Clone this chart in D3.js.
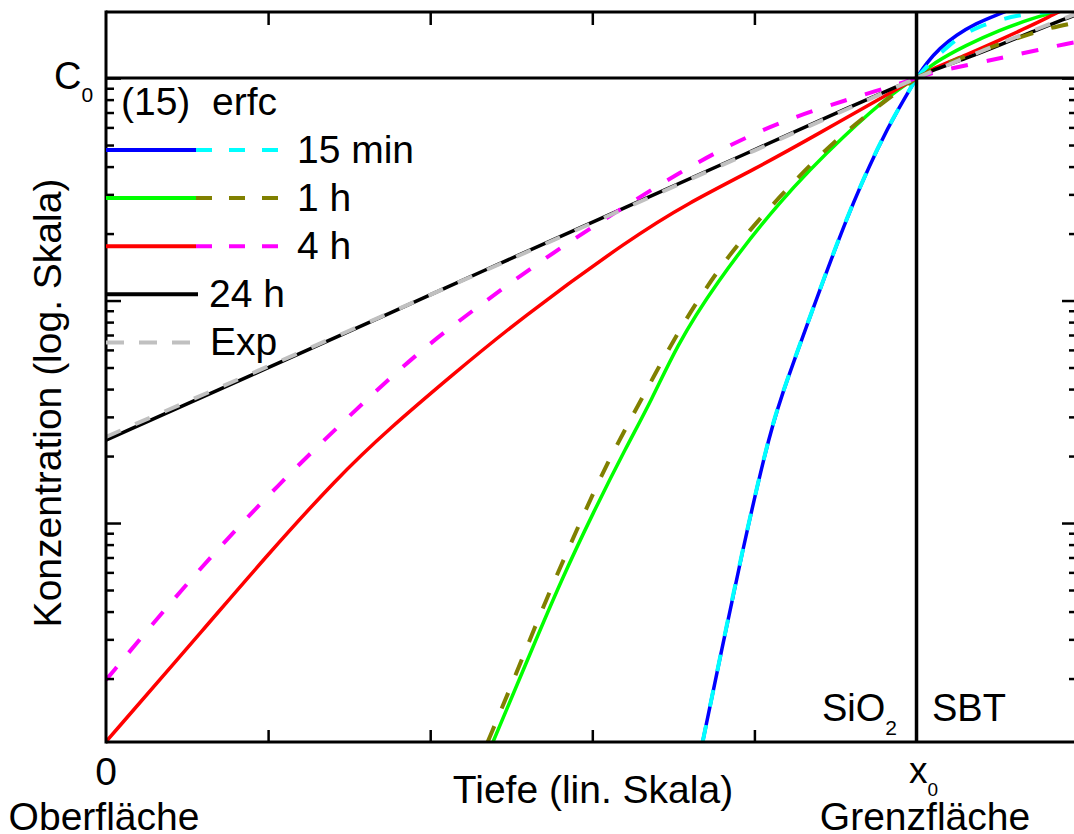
<!DOCTYPE html>
<html><head><meta charset="utf-8">
<script src="https://cdn.jsdelivr.net/npm/d3@7"></script>
<style>
body{margin:0;background:#fff}
svg{display:block}
text{font-family:"Liberation Sans",Arial,Helvetica,sans-serif;fill:#000}
</style>
</head><body>
<svg id="chart" width="1074" height="834"></svg>
<script>
// ---------- data (depth in tick units: 0 = Oberfläche, 5 = x0 Grenzfläche; concentration relative to C0) ----------
const erfc15min = [[3.681,0.00104],[3.798,0.00269],[3.927,0.00756],[4.069,0.0213],[4.155,0.0357],[4.359,0.0907],[4.568,0.237],[4.772,0.510],[4.895,0.741],[5.0,1.0],[5.059,1.164],[5.142,1.360],[5.245,1.561],[5.368,1.762],[5.491,1.919],[5.604,2.064]];
const eq15_15min = [[3.681,0.00104],[3.798,0.00270],[3.927,0.00760],[4.069,0.0214],[4.155,0.0358],[4.359,0.0910],[4.568,0.238],[4.772,0.511],[4.895,0.743],[5.0,1.0],[5.099,1.205],[5.203,1.407],[5.284,1.561],[5.389,1.713],[5.512,1.822],[5.617,1.909],[5.758,1.970],[5.882,2.0]];
const erfc1h = [[2.388,0.00104],[2.634,0.00278],[2.809,0.00554],[3.004,0.0111],[3.210,0.0220],[3.366,0.0357],[3.518,0.0620],[3.744,0.115],[4.155,0.283],[4.567,0.566],[4.875,0.883],[5.0,1.0],[5.099,1.164],[5.306,1.407],[5.512,1.644],[5.715,1.855],[5.861,1.986],[5.99,2.106]];
const eq15_1h = [[2.355,0.00104],[2.515,0.00197],[2.713,0.00451],[2.904,0.00930],[3.089,0.0186],[3.311,0.0368],[3.539,0.0752],[3.785,0.141],[3.970,0.207],[4.155,0.292],[4.359,0.419],[4.568,0.578],[4.772,0.756],[5.0,1.0],[5.142,1.132],[5.306,1.256],[5.512,1.422],[5.715,1.593],[5.820,1.678],[5.968,1.767]];
const erfc4h = [[0,0.00104],[0.641,0.00359],[0.968,0.00682],[1.430,0.0161],[1.751,0.0267],[2.121,0.0453],[2.552,0.0826],[3.249,0.193],[3.582,0.272],[4.014,0.394],[4.359,0.543],[4.834,0.856],[5.0,1.0],[5.099,1.106],[5.306,1.269],[5.512,1.482],[5.715,1.730],[5.838,1.919],[5.99,2.17]];
const eq15_4h = [[0,0.00197],[0.333,0.00386],[0.682,0.00756],[1.052,0.0146],[1.461,0.0285],[1.916,0.0581],[2.324,0.0975],[2.717,0.157],[3.126,0.245],[3.539,0.378],[3.950,0.549],[4.359,0.718],[4.772,0.883],[5.0,1.0],[5.099,1.059],[5.327,1.150],[5.536,1.236],[5.733,1.329],[5.943,1.436],[5.99,1.451]];
const erfc24h = [[0,0.0236],[0.888,0.0459],[1.813,0.0918],[2.306,0.134],[3.126,0.247],[3.970,0.465],[4.587,0.741],[5.0,1.0],[5.099,1.086],[5.306,1.226],[5.512,1.407],[5.715,1.615],[5.923,1.855],[5.99,1.93]];
const expFit = [[0,0.0244],[1,0.0505],[2,0.106],[3,0.223],[4,0.472],[5,1.0],[5.5,1.42],[5.99,1.95]];

const xDomain = [0, 5.99];
const yDomain = [0.001037, 1.981];
const xTickValues = [1, 2, 3, 4];
const yMajorTicks = [0.01, 0.1, 1];
const yMinorTicks = [0.002,0.003,0.004,0.005,0.006,0.007,0.008,0.009,
                     0.02,0.03,0.04,0.05,0.06,0.07,0.08,0.09,
                     0.2,0.3,0.4,0.5,0.6,0.7,0.8,0.9];
const x0Value = 5;
const c0Value = 1;

const legendRows = [
  {label:"15 min", solid:"#0000ff", dashed:"#00ffff"},
  {label:"1 h",    solid:"#00ff00", dashed:"#808000"},
  {label:"4 h",    solid:"#ff0000", dashed:"#ff00ff"}
];

// ---------- layout ----------
const L = 106, R = 1077, T = 12, B = 742;
const svg = d3.select("#chart");
const x = d3.scaleLinear().domain(xDomain).range([L, R]);
const y = d3.scaleLog().domain(yDomain).range([B, T]);
const FONT = 39;

svg.append("defs").append("clipPath").attr("id","clip")
  .append("rect").attr("x",L).attr("y",T).attr("width",R-L).attr("height",B-T);

const line = d3.line().x(d=>x(d[0])).y(d=>y(d[1])).curve(d3.curveBasis);
const gCurves = svg.append("g").attr("clip-path","url(#clip)");

const series = [
  {data:erfc15min, color:"#0000ff", dash:null},
  {data:erfc1h,    color:"#00ff00", dash:null},
  {data:erfc4h,    color:"#ff0000", dash:null},
  {data:erfc24h,   color:"#000000", dash:null},
  {data:eq15_15min,color:"#00ffff", dash:"17,19"},
  {data:eq15_1h,   color:"#808000", dash:"17,19"},
  {data:eq15_4h,   color:"#ff00ff", dash:"17,19"},
  {data:expFit,    color:"#c0c0c0", dash:"16,16"}
];
series.forEach(s=>{
  // each profile: oxide side (up to x0) and SBT side (from x0) drawn as separate smooth pieces
  const parts = [s.data.filter(d=>d[0]<=x0Value), s.data.filter(d=>d[0]>=x0Value)];
  parts.forEach(p=>{
    gCurves.append("path").datum(p)
      .attr("d", line).attr("fill","none")
      .attr("stroke", s.color).attr("stroke-width", s.dash ? 4 : 3.5)
      .attr("stroke-dasharray", s.dash);
  });
});

// ---------- axes ----------
function styleAxis(g){ g.select(".domain").remove(); g.selectAll("line").attr("stroke","#000").attr("stroke-width",2.5); g.selectAll("text").remove(); }
svg.append("g").attr("transform",`translate(${L},0)`).call(d3.axisRight(y).tickValues(yMajorTicks).tickSize(15).tickFormat("")).call(styleAxis);
svg.append("g").attr("transform",`translate(${L},0)`).call(d3.axisRight(y).tickValues(yMinorTicks).tickSize(8).tickFormat("")).call(styleAxis);
svg.append("g").attr("transform",`translate(${R},0)`).call(d3.axisLeft(y).tickValues(yMajorTicks).tickSize(15).tickFormat("")).call(styleAxis);
svg.append("g").attr("transform",`translate(${R},0)`).call(d3.axisLeft(y).tickValues(yMinorTicks).tickSize(8).tickFormat("")).call(styleAxis);
svg.append("g").attr("transform",`translate(0,${B})`).call(d3.axisTop(x).tickValues(xTickValues).tickSize(12).tickFormat("")).call(styleAxis);
svg.append("g").attr("transform",`translate(0,${T})`).call(d3.axisBottom(x).tickValues(xTickValues).tickSize(13).tickFormat("")).call(styleAxis);

// frame + reference lines
const frame = svg.append("g").attr("stroke","#000").attr("stroke-width",3).attr("fill","none");
frame.append("line").attr("x1",L).attr("x2",L).attr("y1",T-1.5).attr("y2",B+1.5);
frame.append("line").attr("x1",R).attr("x2",R).attr("y1",T-1.5).attr("y2",B+1.5);
frame.append("line").attr("x1",L).attr("x2",R).attr("y1",T).attr("y2",T);
frame.append("line").attr("x1",L).attr("x2",R).attr("y1",B).attr("y2",B);
frame.append("line").attr("x1",L).attr("x2",R).attr("y1",y(c0Value)).attr("y2",y(c0Value));
frame.append("line").attr("x1",x(x0Value)).attr("x2",x(x0Value)).attr("y1",T).attr("y2",B).attr("stroke-width",3.5);

// ---------- labels ----------
function sub(parent, xx, yy, main, subTxt, anchor, fs, sfs, dy){
  const t = parent.append("text").attr("x",xx).attr("y",yy).attr("text-anchor",anchor||"start").attr("font-size",fs||FONT);
  t.append("tspan").text(main);
  t.append("tspan").attr("font-size",sfs||21).attr("dy",dy||14).text(subTxt);
  return t;
}
sub(svg, 54, 89, "C", "0", "start", 38, 21, 13);
svg.append("text").attr("x",x(0)).attr("y",785).attr("text-anchor","middle").attr("font-size",FONT).text("0");
sub(svg, 909, 783, "x", "0", "start", 37, 19, 13);
svg.append("text").attr("x",104).attr("y",830).attr("text-anchor","middle").attr("font-size",FONT).text("Oberfläche");
svg.append("text").attr("x",925).attr("y",830).attr("text-anchor","middle").attr("font-size",FONT).text("Grenzfläche");
svg.append("text").attr("x",593).attr("y",803).attr("text-anchor","middle").attr("font-size",FONT).text("Tiefe (lin. Skala)");
svg.append("text").attr("transform","translate(61,403) rotate(-90)").attr("text-anchor","middle").attr("font-size",FONT).text("Konzentration (log. Skala)");
sub(svg, 822, 721, "SiO", "2", "start", 38, 21, 14);
svg.append("text").attr("x",932).attr("y",721).attr("font-size",38).text("SBT");

// ---------- legend ----------
const lg = svg.append("g");
lg.append("text").attr("x",121).attr("y",115).attr("font-size",FONT).style("white-space","pre").text("(15)  erfc");
legendRows.forEach((r,i)=>{
  const yy = 150 + 48.1*i;
  lg.append("line").attr("x1",L).attr("x2",196).attr("y1",yy).attr("y2",yy).attr("stroke",r.solid).attr("stroke-width",4);
  lg.append("line").attr("x1",196).attr("x2",278).attr("y1",yy).attr("y2",yy).attr("stroke",r.dashed).attr("stroke-width",4).attr("stroke-dasharray","16,17");
  lg.append("text").attr("x",297).attr("y",yy+13).attr("font-size",FONT).text(r.label);
});
const y24 = 150 + 48.1*3, yExp = 150 + 48.1*4;
lg.append("line").attr("x1",L).attr("x2",198).attr("y1",y24).attr("y2",y24).attr("stroke","#000").attr("stroke-width",4);
lg.append("text").attr("x",209).attr("y",y24+13).attr("font-size",FONT).text("24 h");
lg.append("line").attr("x1",L).attr("x2",192).attr("y1",yExp).attr("y2",yExp).attr("stroke","#c0c0c0").attr("stroke-width",4).attr("stroke-dasharray","18,15");
lg.append("text").attr("x",210).attr("y",yExp+13).attr("font-size",FONT).text("Exp");
</script>
</body></html>
